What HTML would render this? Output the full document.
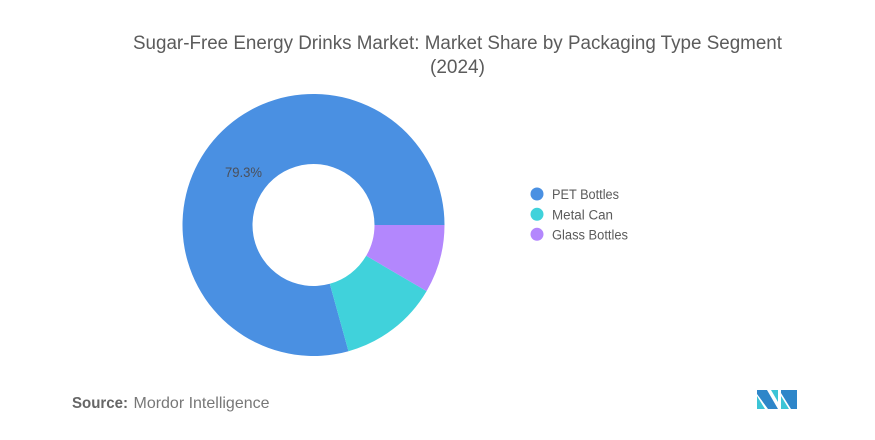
<!DOCTYPE html>
<html>
<head>
<meta charset="utf-8">
<style>
  html,body{margin:0;padding:0;background:#fff;}
  svg{display:block;}
  text{font-family:"Liberation Sans", sans-serif;}
</style>
</head>
<body>
<svg width="875" height="440" viewBox="0 0 875 440" xmlns="http://www.w3.org/2000/svg">
  <rect width="875" height="440" fill="#fff"/>
  <!-- Title -->
  <text x="457.5" y="49" font-size="19" fill="#5b5b5b" text-anchor="middle" textLength="649" lengthAdjust="spacingAndGlyphs">Sugar-Free Energy Drinks Market: Market Share by Packaging Type Segment</text>
  <text x="457.5" y="73" font-size="19" fill="#5b5b5b" text-anchor="middle">(2024)</text>

  <!-- Donut -->
  <path d="M348.5,351.2 A131,131 0 1 1 444.5,225 L374.5,225 A61,61 0 1 0 329.8,283.8 Z" fill="#4a90e2"/>
  <path d="M426.6,291.1 A131,131 0 0 1 348.5,351.2 L329.8,283.8 A61,61 0 0 0 366.2,255.8 Z" fill="#40d2db"/>
  <path d="M444.5,225 A131,131 0 0 1 426.6,291.1 L366.2,255.8 A61,61 0 0 0 374.5,225 Z" fill="#b387fd"/>
  <text x="225" y="177" font-size="14" fill="#4a4f5a" textLength="37" lengthAdjust="spacingAndGlyphs">79.3%</text>

  <!-- Legend -->
  <circle cx="537" cy="194" r="6.5" fill="#4a90e2"/>
  <text x="552" y="199" font-size="13.5" fill="#5b5b5b" textLength="67" lengthAdjust="spacingAndGlyphs">PET Bottles</text>
  <circle cx="537" cy="214.3" r="6.5" fill="#40d2db"/>
  <text x="552" y="219.3" font-size="13.5" fill="#5b5b5b" textLength="61" lengthAdjust="spacingAndGlyphs">Metal Can</text>
  <circle cx="537" cy="234.3" r="6.5" fill="#b387fd"/>
  <text x="552" y="239.3" font-size="13.5" fill="#5b5b5b" textLength="76" lengthAdjust="spacingAndGlyphs">Glass Bottles</text>

  <!-- Source -->
  <text x="72" y="408" font-size="16" font-weight="bold" fill="#666" textLength="56" lengthAdjust="spacingAndGlyphs">Source:</text>
  <text x="133.5" y="408" font-size="16" fill="#777" textLength="136" lengthAdjust="spacingAndGlyphs">Mordor Intelligence</text>

  <!-- Logo -->
  <polygon points="757,390 767,390 778,409 768,409 757,394" fill="#2e86c9"/>
  <polygon points="757,396 765,409 757,409" fill="#3cc4d6"/>
  <polygon points="771,390 778,390 778,402" fill="#3cc4d6"/>
  <polygon points="781,390 797,390 797,409 791,409 781,393" fill="#2e86c9"/>
  <polygon points="781,396 789,409 781,409" fill="#3cc4d6"/>
</svg>
</body>
</html>
